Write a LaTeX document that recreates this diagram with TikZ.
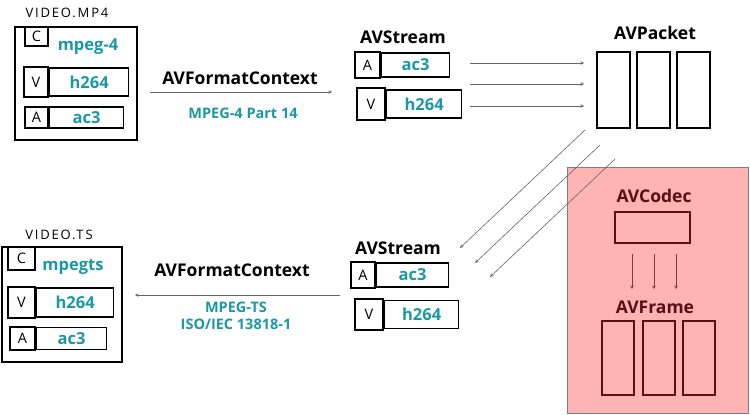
\documentclass[tikz,border=0pt]{standalone}
\usepackage{fontspec}
\setmainfont{Open Sans}
\usetikzlibrary{positioning}

\definecolor{tealtxt}{RGB}{26,152,166}
\definecolor{codecred}{RGB}{92,14,18}
\definecolor{codecfill}{RGB}{255,179,179}
\definecolor{arrowgray}{RGB}{100,100,100}

\tikzstyle{filebox} = [rectangle, draw=black, line width=1.7pt, inner sep=0pt]
\tikzstyle{tag} = [rectangle, draw=black, line width=2pt, inner sep=0pt, font=\fontsize{14.5}{14.5}\selectfont]
\tikzstyle{rowbox} = [rectangle, draw=black, line width=1.3pt, inner sep=0pt, anchor=west, text=tealtxt, font=\bfseries\fontsize{16.5}{16.5}\selectfont]
\tikzstyle{codecname} = [text=tealtxt, font=\bfseries\fontsize{16.5}{16.5}\selectfont]
\tikzstyle{hand} = [font=\addfontfeature{LetterSpace=14}\fontsize{13}{13}\selectfont]
\tikzstyle{title} = [font=\bfseries\fontsize{17.5}{17.5}\selectfont]
\tikzstyle{format} = [text=tealtxt, align=center, font=\bfseries\fontsize{14.5}{16.5}\selectfont]
\tikzstyle{packet} = [rectangle, draw=black, line width=2pt, minimum width=33pt, minimum height=76pt]
\tikzstyle{frame} = [rectangle, draw=codecred, line width=2pt, minimum width=32pt, minimum height=74pt]
\tikzstyle{arrow} = [->, >=stealth, draw=arrowgray, line width=0.6pt]
\tikzstyle{redarrow} = [->, >=stealth, draw=codecred!80, line width=0.6pt]

\begin{document}
\begin{tikzpicture}[x=1pt, y=-1pt]
    \useasboundingbox (0,0) rectangle (750,415);

    % Codec area
    \node (codecarea) [rectangle, draw=gray, fill=codecfill, line width=0.8pt, minimum width=181pt, minimum height=246pt, inner sep=0pt] at (657.5,290) {};

    % Nodes: input file
    \node (mp4name) [hand] at (67,13) {VIDEO.MP4};
    \node (mp4) [filebox, minimum width=122pt, minimum height=113pt] at (76,83.5) {};
    \node (mp4c) [tag, minimum width=23pt, minimum height=19pt] at (36.5,36.5) {C};
    \node (mp4cname) [codecname] at (88,47) {mpeg-4};
    \node (mp4v) [tag, minimum width=24pt, minimum height=30pt] at (36,82) {V};
    \node (mp4vrow) [rowbox, minimum width=79pt, minimum height=28pt] at (mp4v.east) {h264};
    \node (mp4a) [tag, minimum width=23pt, minimum height=21pt] at (36.5,117.5) {A};
    \node (mp4arow) [rowbox, minimum width=74pt, minimum height=21pt] at (mp4a.east) {ac3};

    % Nodes: output file
    \node (tsname) [hand] at (59,235) {VIDEO.TS};
    \node (ts) [filebox, minimum width=120pt, minimum height=115pt] at (62,304.5) {};
    \node (tsc) [tag, minimum width=27pt, minimum height=23pt] at (21.5,258.5) {C};
    \node (tscname) [codecname] at (73,267) {mpegts};
    \node (tsv) [tag, minimum width=27pt, minimum height=31pt] at (21.5,302.5) {V};
    \node (tsvrow) [rowbox, minimum width=77pt, minimum height=29pt] at (tsv.east) {h264};
    \node (tsa) [tag, minimum width=25pt, minimum height=23pt] at (22.5,338.5) {A};
    \node (tsarow) [rowbox, minimum width=70pt, minimum height=22pt] at (tsa.east) {ac3};

    % Nodes: format contexts
    \node (demux) [title] at (240,78) {AVFormatContext};
    \node (demuxfmt) [format] at (243,113) {MPEG-4 Part 14};
    \node (mux) [title] at (232,270) {AVFormatContext};
    \node (muxfmt) [format] at (236,316) {MPEG-TS\\ISO/IEC 13818-1};

    % Nodes: streams
    \node (instream) [title] at (403,37) {AVStream};
    \node (ina) [tag, minimum width=25pt, minimum height=26pt] at (367.5,65) {A};
    \node (inarow) [rowbox, minimum width=68pt, minimum height=24pt] at (ina.east) {ac3};
    \node (inv) [tag, minimum width=28pt, minimum height=32pt] at (371,104) {V};
    \node (invrow) [rowbox, minimum width=75pt, minimum height=28pt] at (inv.east) {h264};

    \node (outstream) [title] at (398,248) {AVStream};
    \node (outa) [tag, minimum width=24pt, minimum height=26pt] at (363,275) {A};
    \node (outarow) [rowbox, minimum width=72pt, minimum height=24pt] at (outa.east) {ac3};
    \node (outv) [tag, minimum width=28pt, minimum height=31pt] at (369,314.5) {V};
    \node (outvrow) [rowbox, minimum width=74pt, minimum height=28pt] at (outv.east) {h264};

    % Nodes: packets
    \node (packets) [title] at (655,33) {AVPacket};
    \node (pkt1) [packet] at (613.5,90) {};
    \node (pkt2) [packet, right=5pt of pkt1] {};
    \node (pkt3) [packet, right=4.5pt of pkt2] {};

    % Nodes: codec and frames
    \node (codec) [title, text=codecred] at (654,196) {AVCodec};
    \node (codecbox) [rectangle, draw=codecred, line width=2pt, minimum width=75pt, minimum height=31pt] at (652.5,227.5) {};
    \node (frames) [title, text=codecred] at (655,307) {AVFrame};
    \node (frm1) [frame] at (618,358) {};
    \node (frm2) [frame, right=7pt of frm1] {};
    \node (frm3) [frame, right=6pt of frm2] {};

    % Free ends
    \coordinate (demuxin) at (150,92);
    \coordinate (demuxout) at (332,92);
    \coordinate (muxin) at (340,295);
    \coordinate (muxout) at (135,295);
    \coordinate (pin1) at (470,63);
    \coordinate (pin2) at (470,84);
    \coordinate (pin3) at (470,106);
    \coordinate (pout1) at (585,130);
    \coordinate (pout2) at (600,145);
    \coordinate (pout3) at (615,159);
    \coordinate (sin1) at (460,248);
    \coordinate (sin2) at (475,263);
    \coordinate (sin3) at (490,277);

    % Arrows
    \draw [arrow] (demuxin) -- (demuxout);
    \draw [arrow] (muxin) -- (muxout);

    \draw [arrow, shorten >=12pt] (pin1) -- (pin1 -| pkt1.west);
    \draw [arrow, shorten >=12pt] (pin2) -- (pin2 -| pkt1.west);
    \draw [arrow, shorten >=12pt] (pin3) -- (pin3 -| pkt1.west);

    \draw [arrow] (pout1) -- (sin1);
    \draw [arrow] (pout2) -- (sin2);
    \draw [arrow] (pout3) -- (sin3);

    \draw [redarrow, shorten <=10pt, shorten >=8pt] ([xshift=-20.5pt]codecbox.south) -- ([xshift=-20.5pt]codecbox.south |- frames.north);
    \draw [redarrow, shorten <=10pt, shorten >=8pt] ([xshift=1.5pt]codecbox.south) -- ([xshift=1.5pt]codecbox.south |- frames.north);
    \draw [redarrow, shorten <=10pt, shorten >=8pt] ([xshift=23.5pt]codecbox.south) -- ([xshift=23.5pt]codecbox.south |- frames.north);

\end{tikzpicture}
\end{document}
